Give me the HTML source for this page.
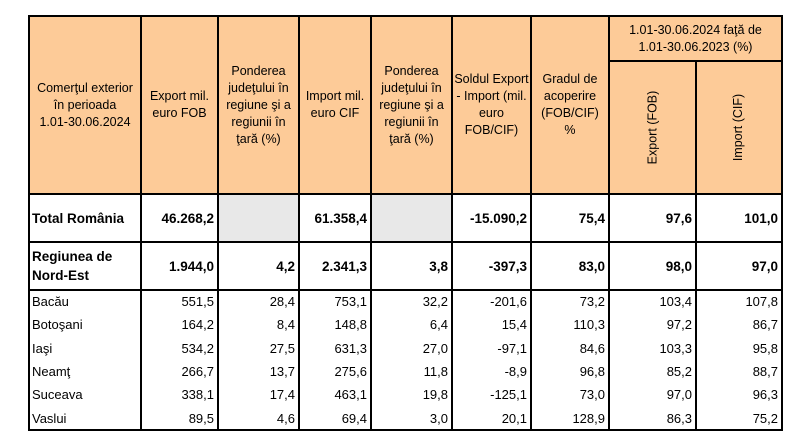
<!DOCTYPE html>
<html><head><meta charset="utf-8"><style>
body{margin:0;width:802px;height:442px;background:#fff;position:relative;font-family:"Liberation Sans",sans-serif;font-size:12.5px;color:#000;overflow:hidden}
.c{position:absolute;box-sizing:border-box;display:flex;align-items:center}
.h{background:#FDCB98;justify-content:center;text-align:center;line-height:17px;font-size:12.5px}
.r{justify-content:flex-end;padding-right:4px}
.b{font-weight:bold;font-size:13.5px}
.l{justify-content:flex-start;padding-left:3px}
.v{position:absolute;background:#000;width:2px}
.hz{position:absolute;background:#000;height:2px}
.rot{transform:rotate(-90deg);white-space:nowrap}
</style></head><body>
<!-- header cells -->
<div class="c h" style="left:29px;top:16px;width:112px;height:178px">Comerţul exterior<br>în perioada<br>1.01-30.06.2024</div>
<div class="c h" style="left:141px;top:16px;width:77px;height:178px">Export mil.<br>euro FOB</div>
<div class="c h" style="left:218px;top:16px;width:81px;height:178px">Ponderea<br>judeţului în<br>regiune şi a<br>regiunii în<br>ţară (%)</div>
<div class="c h" style="left:299px;top:16px;width:72px;height:178px">Import mil.<br>euro CIF</div>
<div class="c h" style="left:371px;top:16px;width:81px;height:178px">Ponderea<br>judeţului în<br>regiune şi a<br>regiunii în<br>ţară (%)</div>
<div class="c h" style="left:452px;top:16px;width:79px;height:178px">Soldul Export<br>- Import (mil.<br>euro<br>FOB/CIF)</div>
<div class="c h" style="left:531px;top:16px;width:78px;height:178px">Gradul de<br>acoperire<br>(FOB/CIF)<br>%</div>
<div class="c h" style="left:609px;top:16px;width:173px;height:45px">1.01-30.06.2024 faţă de<br>1.01-30.06.2023 (%)</div>
<div class="c h" style="left:609px;top:61px;width:87px;height:133px"><span class="rot">Export (FOB)</span></div>
<div class="c h" style="left:696px;top:61px;width:86px;height:133px"><span class="rot">Import (CIF)</span></div>
<!-- gray -->
<div class="c" style="left:218px;top:194px;width:81px;height:48px;background:#E8E8E8"></div>
<div class="c" style="left:371px;top:194px;width:81px;height:48px;background:#E8E8E8"></div>
<!-- Total -->
<div class="c l b" style="left:29px;top:194px;width:112px;height:48px">Total România</div>
<div class="c r b" style="left:141px;top:194px;width:77px;height:48px">46.268,2</div>
<div class="c r b" style="left:299px;top:194px;width:72px;height:48px">61.358,4</div>
<div class="c r b" style="left:452px;top:194px;width:79px;height:48px">-15.090,2</div>
<div class="c r b" style="left:531px;top:194px;width:78px;height:48px">75,4</div>
<div class="c r b" style="left:609px;top:194px;width:87px;height:48px">97,6</div>
<div class="c r b" style="left:696px;top:194px;width:86px;height:48px">101,0</div>
<!-- Region -->
<div class="c l b" style="left:29px;top:242px;width:112px;height:48px;line-height:19px">Regiunea de<br>Nord-Est</div>
<div class="c r b" style="left:141px;top:242px;width:77px;height:48px">1.944,0</div>
<div class="c r b" style="left:218px;top:242px;width:81px;height:48px">4,2</div>
<div class="c r b" style="left:299px;top:242px;width:72px;height:48px">2.341,3</div>
<div class="c r b" style="left:371px;top:242px;width:81px;height:48px">3,8</div>
<div class="c r b" style="left:452px;top:242px;width:79px;height:48px">-397,3</div>
<div class="c r b" style="left:531px;top:242px;width:78px;height:48px">83,0</div>
<div class="c r b" style="left:609px;top:242px;width:87px;height:48px">98,0</div>
<div class="c r b" style="left:696px;top:242px;width:86px;height:48px">97,0</div>
<!-- data rows -->
<div style="position:absolute;left:0;top:290px;width:802px;font-size:13px">
<table style="position:absolute;left:29px;top:0;border-collapse:collapse;table-layout:fixed" cellspacing="0" cellpadding="0">
<colgroup><col style="width:112px"><col style="width:77px"><col style="width:81px"><col style="width:72px"><col style="width:81px"><col style="width:79px"><col style="width:78px"><col style="width:87px"><col style="width:86px"></colgroup>
<style>td{height:23.3px;text-align:right;padding:0 4px 0 0;font-size:13px}td:first-child{text-align:left;padding-left:3px}</style>
<tr><td>Bacău</td><td>551,5</td><td>28,4</td><td>753,1</td><td>32,2</td><td>-201,6</td><td>73,2</td><td>103,4</td><td>107,8</td></tr>
<tr><td>Botoşani</td><td>164,2</td><td>8,4</td><td>148,8</td><td>6,4</td><td>15,4</td><td>110,3</td><td>97,2</td><td>86,7</td></tr>
<tr><td>Iaşi</td><td>534,2</td><td>27,5</td><td>631,3</td><td>27,0</td><td>-97,1</td><td>84,6</td><td>103,3</td><td>95,8</td></tr>
<tr><td>Neamţ</td><td>266,7</td><td>13,7</td><td>275,6</td><td>11,8</td><td>-8,9</td><td>96,8</td><td>85,2</td><td>88,7</td></tr>
<tr><td>Suceava</td><td>338,1</td><td>17,4</td><td>463,1</td><td>19,8</td><td>-125,1</td><td>73,0</td><td>97,0</td><td>96,3</td></tr>
<tr><td>Vaslui</td><td>89,5</td><td>4,6</td><td>69,4</td><td>3,0</td><td>20,1</td><td>128,9</td><td>86,3</td><td>75,2</td></tr>
</table></div>
<!-- grid lines -->
<div class="v" style="left:28px;top:15px;height:416px"></div>
<div class="v" style="left:140px;top:15px;height:416px"></div>
<div class="v" style="left:217px;top:15px;height:416px"></div>
<div class="v" style="left:298px;top:15px;height:416px"></div>
<div class="v" style="left:370px;top:15px;height:416px"></div>
<div class="v" style="left:451px;top:15px;height:416px"></div>
<div class="v" style="left:530px;top:15px;height:416px"></div>
<div class="v" style="left:608px;top:15px;height:416px"></div>
<div class="v" style="left:695px;top:60px;height:371px"></div>
<div class="v" style="left:781px;top:15px;height:416px"></div>
<div class="hz" style="left:28px;top:15px;width:755px"></div>
<div class="hz" style="left:608px;top:60px;width:175px"></div>
<div class="hz" style="left:28px;top:193px;width:755px"></div>
<div class="hz" style="left:28px;top:241px;width:755px"></div>
<div class="hz" style="left:28px;top:289px;width:755px"></div>
<div class="hz" style="left:28px;top:429px;width:755px"></div>
</body></html>
